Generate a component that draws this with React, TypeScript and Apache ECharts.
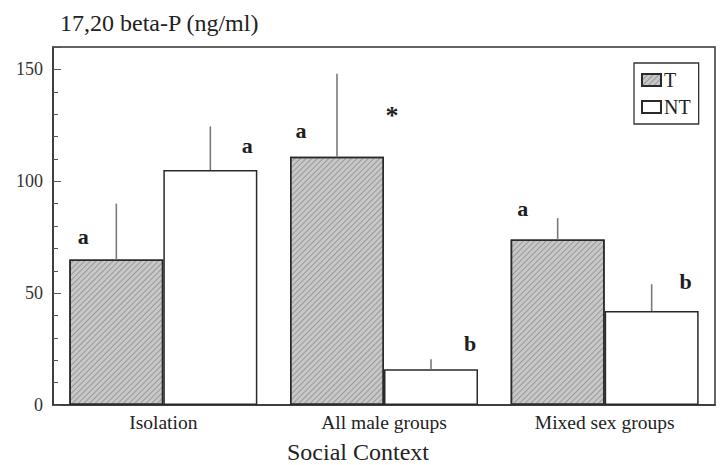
import React, { useEffect, useRef } from "react";
import * as echarts from "echarts";

const categories = ["Isolation", "All male groups", "Mixed sex groups"];
const seriesNames = ["T", "NT"];
const tValues = [65, 111, 74];
const tErrors = [25, 37, 9.5];
const ntValues = [105, 16, 42];
const ntErrors = [19.5, 4.5, 12];

const annotText = ["a", "a", "a", "*", "b", "a", "b"];
const annotCategory = [0, 0, 1, 1, 1, 2, 2];
const annotValue = [75.5, 116, 122.5, 129.5, 27.7, 88, 55];
// bar the label belongs to (0 = T, 1 = NT)
const annotBar = [0, 1, 0, 0, 1, 0, 1];
// horizontal shift of each label from its bar centre, px (layout only)
const annotShift = [-33, 37, -36, 55, 39, -35, 34];

const yTickValues = [0, 50, 100, 150];

const FONT = "'Liberation Serif', 'DejaVu Serif', serif";
const BAR_FRAC = 0.426;

export default function App() {
  const ref = useRef<HTMLDivElement>(null);
  useEffect(() => {
    if (!ref.current) return;
    const chart = echarts.init(ref.current, undefined, { renderer: "svg" });

    const errorSeries = (vals: number[], errs: number[], sign: number) => ({
      type: "custom",
      coordinateSystem: "cartesian2d",
      z: 4,
      silent: true,
      data: vals.map((v, i) => [i, v, errs[i]]),
      encode: { x: 0, y: 1 },
      renderItem: (params: any, api: any) => {
        const i = api.value(0);
        const v = api.value(1);
        const e = api.value(2);
        const band = api.size([1, 0])[0];
        const base = api.coord([i, v]);
        const top = api.coord([i, v + e]);
        const x = base[0] + (sign * band * BAR_FRAC) / 2;
        return {
          type: "line",
          shape: { x1: x, y1: base[1], x2: x, y2: top[1] },
          style: { stroke: "#7a7a7a", lineWidth: 1.6 },
        };
      },
    });

    const option: any = {
      animation: false,
      backgroundColor: "#ffffff",
      title: {
        text: "17,20 beta-P (ng/ml)",
        left: 55,
        top: 6,
        textStyle: { fontFamily: FONT, fontSize: 24, fontWeight: "normal", color: "#222" },
      },
      legend: {
        data: seriesNames,
        orient: "vertical",
        left: 634,
        top: 63,
        padding: [7, 8, 7, 7],
        itemGap: 7,
        itemWidth: 19,
        itemHeight: 12,
        borderColor: "#333",
        borderWidth: 1.3,
        icon: "rect",
        textStyle: { fontFamily: FONT, fontSize: 20, color: "#222", padding: [0, 0, 0, -2] },
      },
      grid: {
        left: 53,
        right: 9,
        top: 47,
        bottom: 60,
        containLabel: false,
        outerBoundsMode: "none",
        show: true,
        borderColor: "#333",
        borderWidth: 1.5,
        backgroundColor: "#fff",
      },
      xAxis: {
        type: "category",
        data: categories,
        axisLine: { lineStyle: { color: "#333", width: 1.5 } },
        axisTick: { show: false },
        axisLabel: { fontFamily: FONT, fontSize: 19.5, color: "#222", margin: 7 },
        name: "Social Context",
        nameLocation: "middle",
        nameGap: 36,
        nameTextStyle: {
          fontFamily: FONT,
          fontSize: 24,
          lineHeight: 22,
          color: "#222",
          padding: [0, 52, 0, 0],
        },
      },
      yAxis: [
        {
          type: "value",
          min: 0,
          max: 160,
          interval: 10,
          axisLine: { show: true, lineStyle: { color: "#333", width: 1.5 } },
          axisTick: { show: true, inside: true, length: 5, lineStyle: { color: "#555" } },
          axisLabel: {
            fontFamily: FONT,
            fontSize: 18,
            color: "#333",
            margin: 10,
            showMaxLabel: false,
            formatter: (v: number) => (yTickValues.indexOf(v) >= 0 ? String(v) : ""),
          },
          splitLine: { show: false },
        },
        {
          type: "value",
          position: "left",
          min: 0,
          max: 160,
          interval: 50,
          axisLine: { show: false },
          axisTick: { show: true, inside: true, length: 8, lineStyle: { color: "#555" } },
          axisLabel: { show: false },
          splitLine: { show: false },
        },
      ],
      series: [
        {
          name: "T",
          type: "bar",
          data: tValues,
          barWidth: BAR_FRAC * 100 + "%",
          barGap: "0%",
          itemStyle: {
            color: "#c8c8c8",
            borderColor: "#2a2a2a",
            borderWidth: 1.5,
            decal: {
              symbol: "rect",
              symbolSize: 1,
              dashArrayX: [1, 0],
              dashArrayY: [1, 3],
              rotation: -Math.PI / 4,
              color: "rgba(95,95,95,0.45)",
            },
          },
        },
        {
          name: "NT",
          type: "bar",
          data: ntValues,
          barWidth: BAR_FRAC * 100 + "%",
          barGap: "0%",
          itemStyle: { color: "#ffffff", borderColor: "#2a2a2a", borderWidth: 1.5 },
        },
        errorSeries(tValues, tErrors, -1),
        errorSeries(ntValues, ntErrors, 1),
        {
          type: "custom",
          coordinateSystem: "cartesian2d",
          z: 5,
          silent: true,
          data: annotValue.map((v, k) => [annotCategory[k], v]),
          encode: { x: 0, y: 1 },
          renderItem: (params: any, api: any) => {
            const k = params.dataIndex;
            const band = api.size([1, 0])[0];
            const p = api.coord([api.value(0), api.value(1)]);
            const sign = annotBar[k] === 0 ? -1 : 1;
            const x = p[0] + (sign * band * BAR_FRAC) / 2 + annotShift[k];
            const isStar = annotText[k] === "*";
            return {
              type: "text",
              x,
              y: p[1],
              style: {
                text: annotText[k],
                fontFamily: FONT,
                fontSize: isStar ? 26 : 22,
                fontWeight: "bold",
                fill: "#1e1e1e",
                align: "center",
                verticalAlign: "middle",
              },
            };
          },
        },
      ],
    };
    chart.setOption(option);
    return () => chart.dispose();
  }, []);

  return (
    <div
      ref={ref}
      style={{ position: "fixed", left: 0, top: 0, width: 724, height: 465, background: "#fff" }}
    />
  );
}
